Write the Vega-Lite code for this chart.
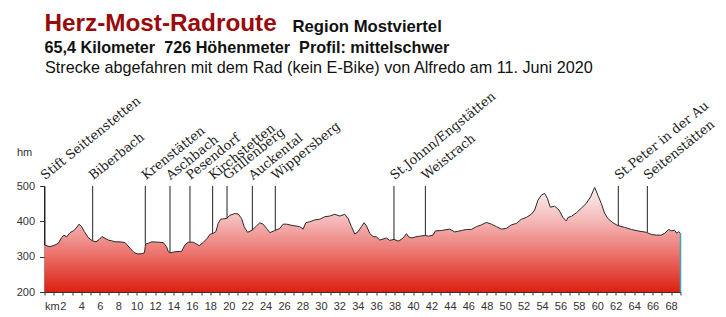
{
  "$schema": "https://vega.github.io/schema/vega-lite/v6.json",
  "width": 636,
  "height": 106,
  "autosize": "none",
  "padding": {"left": 44.5, "top": 186, "right": 45.5, "bottom": 25},
  "background": "white",
  "config": {"view": {"stroke": null}, "font": "Liberation Sans"},
  "title": {
    "text": "Herz-Most-Radroute",
    "subtitle": "65,4 Kilometer\u00a0 726 Höhenmeter\u00a0 Profil: mittelschwer",
    "anchor": "start",
    "frame": "group",
    "orient": "top",
    "font": "Liberation Sans",
    "fontSize": 24.3,
    "fontWeight": "bold",
    "color": "#990a0a",
    "subtitleFont": "Liberation Sans",
    "subtitleFontSize": 16.2,
    "subtitleFontWeight": "bold",
    "subtitleColor": "#111111",
    "subtitlePadding": 4,
    "offset": 0,
    "dy": 38
  },
  "datasets": {
    "profile": [
      {"km": 0, "elev": 333}, {"km": 0.6, "elev": 328}, {"km": 1.14, "elev": 333}, {"km": 1.5, "elev": 338},
      {"km": 1.86, "elev": 354}, {"km": 2.1, "elev": 361}, {"km": 2.4, "elev": 356}, {"km": 2.77, "elev": 368},
      {"km": 3.12, "elev": 373}, {"km": 3.42, "elev": 380}, {"km": 3.74, "elev": 392}, {"km": 4.03, "elev": 385},
      {"km": 4.32, "elev": 371}, {"km": 4.75, "elev": 354}, {"km": 5.19, "elev": 345}, {"km": 5.59, "elev": 342},
      {"km": 5.95, "elev": 349}, {"km": 6.24, "elev": 357}, {"km": 6.56, "elev": 352}, {"km": 6.92, "elev": 347},
      {"km": 7.29, "elev": 345}, {"km": 7.65, "elev": 342}, {"km": 8.19, "elev": 342}, {"km": 8.73, "elev": 340},
      {"km": 8.98, "elev": 333}, {"km": 9.35, "elev": 322}, {"km": 9.71, "elev": 312}, {"km": 10.07, "elev": 308},
      {"km": 10.5, "elev": 308}, {"km": 10.85, "elev": 311}, {"km": 10.97, "elev": 336}, {"km": 11.27, "elev": 338},
      {"km": 11.63, "elev": 342}, {"km": 12.35, "elev": 341}, {"km": 12.89, "elev": 340}, {"km": 13.25, "elev": 328},
      {"km": 13.45, "elev": 314}, {"km": 13.69, "elev": 311}, {"km": 14.15, "elev": 314}, {"km": 14.88, "elev": 315},
      {"km": 15.24, "elev": 333}, {"km": 15.6, "elev": 341}, {"km": 16.14, "elev": 341}, {"km": 16.5, "elev": 336},
      {"km": 16.79, "elev": 331}, {"km": 17.22, "elev": 340}, {"km": 17.66, "elev": 352}, {"km": 17.95, "elev": 363},
      {"km": 18.31, "elev": 366}, {"km": 18.6, "elev": 371}, {"km": 18.85, "elev": 394}, {"km": 19.11, "elev": 406},
      {"km": 19.76, "elev": 408}, {"km": 20.12, "elev": 417}, {"km": 20.66, "elev": 422}, {"km": 21.02, "elev": 421},
      {"km": 21.39, "elev": 408}, {"km": 21.67, "elev": 385}, {"km": 22.04, "elev": 369}, {"km": 22.54, "elev": 375},
      {"km": 23.01, "elev": 387}, {"km": 23.37, "elev": 396}, {"km": 23.73, "elev": 392}, {"km": 24.1, "elev": 380},
      {"km": 24.46, "elev": 368}, {"km": 25.0, "elev": 374}, {"km": 25.54, "elev": 380}, {"km": 25.9, "elev": 392},
      {"km": 26.26, "elev": 392}, {"km": 26.98, "elev": 388}, {"km": 27.71, "elev": 385}, {"km": 28.07, "elev": 378},
      {"km": 28.36, "elev": 396}, {"km": 28.8, "elev": 399}, {"km": 29.34, "elev": 404}, {"km": 29.88, "elev": 406},
      {"km": 30.42, "elev": 413}, {"km": 30.96, "elev": 415}, {"km": 31.51, "elev": 420}, {"km": 32.05, "elev": 415},
      {"km": 32.59, "elev": 420}, {"km": 32.95, "elev": 408}, {"km": 33.32, "elev": 385}, {"km": 33.68, "elev": 364},
      {"km": 34.04, "elev": 371}, {"km": 34.4, "elev": 385}, {"km": 34.69, "elev": 396}, {"km": 34.95, "elev": 387},
      {"km": 35.3, "elev": 366}, {"km": 35.66, "elev": 357}, {"km": 36.03, "elev": 356}, {"km": 36.39, "elev": 347},
      {"km": 36.75, "elev": 350}, {"km": 37.11, "elev": 353}, {"km": 37.47, "elev": 346}, {"km": 37.94, "elev": 349},
      {"km": 38.37, "elev": 344}, {"km": 38.74, "elev": 349}, {"km": 39.03, "elev": 356}, {"km": 39.28, "elev": 365},
      {"km": 39.53, "elev": 356}, {"km": 39.89, "elev": 353}, {"km": 40.26, "elev": 356}, {"km": 40.73, "elev": 358},
      {"km": 41.27, "elev": 360}, {"km": 41.7, "elev": 358}, {"km": 42.17, "elev": 361}, {"km": 42.43, "elev": 373},
      {"km": 43.08, "elev": 374}, {"km": 43.98, "elev": 378}, {"km": 44.52, "elev": 370}, {"km": 45.25, "elev": 374},
      {"km": 45.79, "elev": 377}, {"km": 46.33, "elev": 377}, {"km": 46.88, "elev": 385}, {"km": 47.42, "elev": 390},
      {"km": 47.96, "elev": 397}, {"km": 48.5, "elev": 392}, {"km": 49.05, "elev": 385}, {"km": 49.59, "elev": 378},
      {"km": 50.13, "elev": 380}, {"km": 50.67, "elev": 390}, {"km": 51.21, "elev": 394}, {"km": 51.76, "elev": 406},
      {"km": 52.3, "elev": 411}, {"km": 52.84, "elev": 420}, {"km": 53.2, "elev": 432}, {"km": 53.56, "elev": 460},
      {"km": 53.93, "elev": 474}, {"km": 54.28, "elev": 479}, {"km": 54.58, "elev": 465}, {"km": 54.9, "elev": 440},
      {"km": 55.37, "elev": 443}, {"km": 55.84, "elev": 432}, {"km": 56.27, "elev": 411}, {"km": 56.64, "elev": 401},
      {"km": 56.81, "elev": 411}, {"km": 57.18, "elev": 414}, {"km": 57.72, "elev": 424}, {"km": 58.26, "elev": 437},
      {"km": 58.81, "elev": 451}, {"km": 59.27, "elev": 469}, {"km": 59.71, "elev": 496}, {"km": 60.06, "elev": 474},
      {"km": 60.43, "elev": 451}, {"km": 60.79, "elev": 423}, {"km": 61.15, "elev": 408}, {"km": 61.69, "elev": 396},
      {"km": 62.23, "elev": 388}, {"km": 62.96, "elev": 383}, {"km": 63.69, "elev": 377}, {"km": 64.4, "elev": 373},
      {"km": 65.31, "elev": 369}, {"km": 65.86, "elev": 363}, {"km": 66.4, "elev": 361}, {"km": 66.94, "elev": 361},
      {"km": 67.3, "elev": 366}, {"km": 67.73, "elev": 377}, {"km": 68.09, "elev": 373}, {"km": 68.38, "elev": 375},
      {"km": 68.63, "elev": 366}, {"km": 68.82, "elev": 371}, {"km": 69.03, "elev": 366}
    ],
    "places": [
      {"name": "Stift Seittenstetten", "km": 0, "elev": 333},
      {"name": "Biberbach", "km": 5.23, "elev": 345},
      {"name": "Krenstätten", "km": 10.94, "elev": 337},
      {"name": "Aschbach", "km": 13.62, "elev": 311},
      {"name": "Pesendorf", "km": 15.79, "elev": 341},
      {"name": "Kirchstetten", "km": 18.25, "elev": 367},
      {"name": "Grillenberg", "km": 19.81, "elev": 408},
      {"name": "Auckental", "km": 22.56, "elev": 375},
      {"name": "Wippersberg", "km": 25.05, "elev": 375},
      {"name": "St.Johnn/Engstätten", "km": 37.93, "elev": 349},
      {"name": "Weistrach", "km": 41.34, "elev": 360},
      {"name": "St.Peter in der Au", "km": 62.28, "elev": 388},
      {"name": "Seitenstätten", "km": 65.43, "elev": 369}
    ]
  },
  "resolve": {"axis": {"x": "independent", "y": "independent"}},
  "layer": [
    {
      "data": {"name": "profile"},
      "mark": {
        "type": "area",
        "color": {
          "gradient": "linear", "x1": 0, "y1": 0, "x2": 0, "y2": 1,
          "stops": [
            {"offset": 0, "color": "#fdf1f1"},
            {"offset": 0.3, "color": "#f5bcbc"},
            {"offset": 0.62, "color": "#ec7670"},
            {"offset": 1, "color": "#dc2012"}
          ]
        }
      },
      "encoding": {
        "x": {
          "field": "km", "type": "quantitative",
          "scale": {"domain": [0, 69.03], "nice": false, "zero": false},
          "axis": {
            "orient": "bottom",
            "values": [0,1,2,3,4,5,6,7,8,9,10,11,12,13,14,15,16,17,18,19,20,21,22,23,24,25,26,27,28,29,30,31,32,33,34,35,36,37,38,39,40,41,42,43,44,45,46,47,48,49,50,51,52,53,54,55,56,57,58,59,60,61,62,63,64,65,66,67,68,69],
            "labelExpr": "datum.value == 0 ? 'km' : (datum.value % 2 == 0 ? datum.label : '')",
            "labelOverlap": false, "labelFlush": true, "grid": false,
            "domainColor": "#333333", "tickColor": "#333333", "tickSize": 3,
            "labelFont": "Liberation Sans", "labelFontSize": 11, "labelColor": "#333333", "labelPadding": 5,
            "title": "Quelle: www.fahr-radwege.com",
            "titleFont": "Liberation Sans", "titleFontSize": 16.5, "titleFontWeight": "bold", "titleColor": "#111111",
            "titleX": 209.5, "titleY": -16, "titleAlign": "left", "titleBaseline": "alphabetic"
          }
        },
        "y": {
          "field": "elev", "type": "quantitative",
          "scale": {"domain": [200, 500], "nice": false, "zero": false},
          "axis": {
            "values": [200, 300, 400, 500], "grid": false,
            "domainColor": "#333333", "tickColor": "#333333", "tickSize": 5,
            "labelFont": "Liberation Sans", "labelFontSize": 11, "labelColor": "#333333", "labelPadding": 5,
            "title": "hm", "titleAngle": 0, "titleX": -28, "titleY": -34, "titleAlign": "left", "titleBaseline": "middle",
            "titleFont": "Liberation Sans", "titleFontSize": 11, "titleFontWeight": "normal", "titleColor": "#333333"
          }
        },
        "y2": {"datum": 200}
      }
    },
    {
      "data": {"name": "profile"},
      "mark": {"type": "line", "color": "#2a2a2a", "strokeWidth": 1},
      "encoding": {
        "x": {
          "field": "km", "type": "quantitative",
          "axis": {
            "orient": "top", "labels": false, "ticks": false, "domain": false, "grid": false,
            "title": "Strecke abgefahren mit dem Rad (kein E-Bike) von Alfredo am 11. Juni 2020",
            "titleX": 0, "titleY": -114, "titleAlign": "left", "titleBaseline": "alphabetic",
            "titleFont": "Liberation Sans", "titleFontSize": 16.2, "titleFontWeight": "normal", "titleColor": "#111111"
          }
        },
        "y": {
          "field": "elev", "type": "quantitative",
          "axis": {
            "orient": "right", "labels": false, "ticks": false, "domain": false, "grid": false,
            "title": "Region Mostviertel", "titleAngle": 0,
            "titleX": -388.5, "titleY": -155, "titleAlign": "left", "titleBaseline": "alphabetic",
            "titleFont": "Liberation Sans", "titleFontSize": 16.7, "titleFontWeight": "bold", "titleColor": "#111111"
          }
        }
      }
    },
    {
      "data": {"name": "profile"},
      "transform": [{"filter": "datum.km >= 69"}],
      "mark": {"type": "rule", "color": "#3aa6b9", "strokeWidth": 1.5},
      "encoding": {
        "x": {"field": "km", "type": "quantitative", "axis": null},
        "y": {"field": "elev", "type": "quantitative", "axis": null},
        "y2": {"datum": 200}
      }
    },
    {
      "data": {"name": "places"},
      "mark": {"type": "rule", "color": "#222222", "strokeWidth": 1},
      "encoding": {
        "x": {"field": "km", "type": "quantitative", "axis": null},
        "y": {"field": "elev", "type": "quantitative", "axis": null},
        "y2": {"datum": 500}
      }
    },
    {
      "data": {"name": "places"},
      "mark": {"type": "text", "angle": -39, "align": "left", "baseline": "alphabetic", "dx": 4, "dy": -4, "font": "DejaVu Serif", "fontSize": 12.8, "color": "#222222"},
      "encoding": {
        "x": {"field": "km", "type": "quantitative", "axis": null},
        "y": {"datum": 500, "type": "quantitative", "axis": null},
        "text": {"field": "name"}
      }
    }
  ]
}
